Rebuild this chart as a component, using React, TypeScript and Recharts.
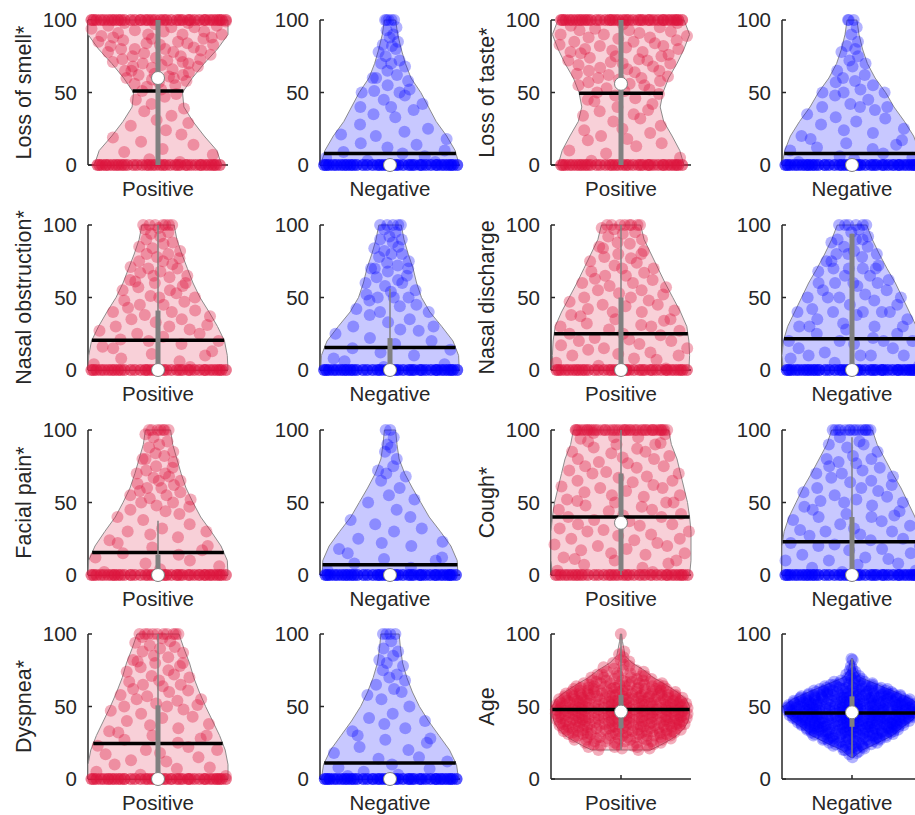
import React from "react"
import { ComposedChart, Scatter, XAxis, YAxis } from "recharts"

const RED = "#DC143C"
const BLUE = "#0000FF"
const RED_FILL = "#F8D0D8"
const BLUE_FILL = "#C8C8FF"
const GREY = "#808080"
const INK = "#262626"

const SYMPTOM_LEVELS = [0, 10, 20, 30, 40, 50, 60, 70, 80, 90, 100]

// jitter offsets, as a fraction of the violin half-width at the point's value
const JITTER = [
  -0.82, 0.35, -0.14, 0.91, -0.57, 0.08, 0.66, -0.33, -0.95, 0.52, 0.19, -0.71, 0.84, -0.04, 0.43, -0.48, 0.97,
  -0.25, -0.88, 0.27, 0.74, -0.62, 0.12, -0.39, 0.59, -0.77, 0.03, 0.88, -0.18, 0.46, -0.92, 0.31, -0.53, 0.68,
  -0.09, 0.79, -0.66,
]

// stats: [mean, median, q1, q3, whisker low, whisker high]
// ends: [count at 0, count at 100]

const SMELL_POS_WIDTH = [0.91, 0.84, 0.66, 0.5, 0.37, 0.35, 0.49, 0.66, 0.85, 1.0, 1.0]
const SMELL_POS_ENDS = [75, 75]
const SMELL_POS_VALUES = [
  2, 4, 7, 9, 11, 14, 16, 19, 21, 24, 27, 29, 31, 34, 37, 39, 42, 45, 47, 49, 51, 52, 54, 55, 56, 57, 58, 59, 60, 60,
  61, 62, 62, 63, 64, 65, 65, 66, 67, 68, 68, 69, 70, 70, 71, 71, 72, 73, 73, 74, 75, 75, 76, 77, 78, 78, 79, 80, 80,
  80, 81, 82, 83, 83, 84, 84, 85, 85, 86, 87, 87, 88, 88, 89, 90, 90, 90, 91, 92, 92, 93, 94, 95, 95, 96, 96, 97, 98,
  98, 99,
]
const SMELL_POS_STATS = [51, 60, 0, 100, 0, 100]

const SMELL_NEG_WIDTH = [0.99, 0.93, 0.81, 0.66, 0.55, 0.44, 0.3, 0.22, 0.16, 0.11, 0.08]
const SMELL_NEG_ENDS = [110, 5]
const SMELL_NEG_VALUES = [
  2, 3, 5, 6, 8, 9, 10, 12, 14, 15, 18, 20, 21, 23, 25, 28, 33, 35, 38, 40, 40, 42, 45, 48, 50, 50, 51, 52, 55, 58,
  60, 60, 62, 65, 68, 70, 70, 72, 75, 78, 80, 82, 83, 85, 88, 90, 93, 95,
]
const SMELL_NEG_STATS = [8, 0, 0, 0, 0, 0]

const TASTE_POS_WIDTH = [0.9, 0.84, 0.73, 0.61, 0.56, 0.6, 0.68, 0.8, 0.9, 0.98, 0.9]
const TASTE_POS_ENDS = [75, 75]
const TASTE_POS_VALUES = [
  3, 5, 8, 10, 13, 15, 17, 18, 20, 22, 24, 25, 27, 30, 32, 34, 35, 37, 38, 40, 42, 44, 45, 46, 48, 49, 50, 51, 52, 53,
  55, 55, 56, 57, 58, 59, 60, 60, 61, 62, 63, 64, 65, 65, 66, 67, 68, 69, 70, 70, 71, 72, 72, 73, 74, 75, 75, 76, 77,
  78, 78, 79, 80, 80, 81, 82, 82, 83, 84, 85, 85, 86, 87, 88, 88, 89, 90, 90, 91, 92, 93, 93, 94, 95, 96, 97, 98,
]
const TASTE_POS_STATS = [49.5, 56, 0, 100, 0, 100]

const TASTE_NEG_WIDTH = [1.0, 0.96, 0.88, 0.75, 0.6, 0.48, 0.33, 0.22, 0.15, 0.1, 0.07]
const TASTE_NEG_ENDS = [115, 3]
const TASTE_NEG_VALUES = [
  2, 4, 5, 6, 8, 10, 11, 12, 14, 15, 17, 18, 20, 22, 24, 25, 28, 30, 32, 33, 35, 38, 40, 40, 40, 42, 45, 48, 50, 50,
  50, 52, 55, 57, 58, 60, 62, 65, 68, 70, 72, 75, 78, 80, 82, 85, 90, 95,
]
const TASTE_NEG_STATS = [8, 0, 0, 0, 0, 0]

const OBSTR_POS_WIDTH = [1.0, 0.99, 0.95, 0.85, 0.73, 0.6, 0.5, 0.42, 0.34, 0.27, 0.23]
const OBSTR_POS_ENDS = [75, 7]
const OBSTR_POS_VALUES = [
  2, 4, 6, 8, 10, 11, 13, 15, 16, 18, 20, 20, 21, 23, 25, 25, 27, 28, 30, 30, 31, 33, 35, 35, 37, 38, 40, 40, 41, 43,
  45, 45, 47, 48, 50, 50, 51, 53, 55, 55, 57, 58, 60, 60, 61, 62, 64, 65, 65, 67, 68, 70, 70, 71, 73, 75, 75, 77, 78,
  80, 80, 82, 84, 85, 87, 88, 90, 92, 94, 95, 97, 98,
]
const OBSTR_POS_STATS = [20.5, 0, 0, 41, 0, 100]

const OBSTR_NEG_WIDTH = [0.99, 0.98, 0.9, 0.74, 0.57, 0.45, 0.38, 0.33, 0.26, 0.2, 0.16]
const OBSTR_NEG_ENDS = [110, 5]
const OBSTR_NEG_VALUES = [
  2, 4, 6, 8, 10, 12, 14, 15, 18, 20, 22, 25, 27, 28, 30, 30, 33, 35, 38, 40, 40, 42, 44, 45, 48, 50, 50, 50, 52, 54,
  55, 58, 60, 60, 62, 64, 65, 68, 70, 70, 70, 72, 74, 75, 78, 80, 80, 82, 84, 85, 88, 90, 90, 92, 95, 97,
]
const OBSTR_NEG_STATS = [15.5, 0, 0, 22, 0, 56]

const DISCH_POS_WIDTH = [0.97, 0.98, 0.97, 0.94, 0.85, 0.74, 0.63, 0.53, 0.43, 0.33, 0.28]
const DISCH_POS_ENDS = [75, 8]
const DISCH_POS_VALUES = [
  1, 3, 5, 7, 8, 10, 10, 11, 12, 14, 15, 15, 17, 18, 20, 20, 21, 22, 24, 25, 25, 27, 28, 30, 30, 31, 32, 34, 35, 35,
  37, 38, 40, 40, 41, 42, 44, 45, 45, 47, 48, 50, 50, 52, 53, 55, 55, 57, 58, 60, 60, 62, 63, 65, 65, 67, 68, 70, 70,
  72, 74, 75, 77, 78, 80, 80, 82, 84, 85, 87, 88, 90, 92, 94, 95, 97, 98,
]
const DISCH_POS_STATS = [25, 0, 0, 50, 0, 100]

const DISCH_NEG_WIDTH = [0.98, 1.0, 0.98, 0.92, 0.82, 0.72, 0.62, 0.5, 0.39, 0.29, 0.21]
const DISCH_NEG_ENDS = [115, 6]
const DISCH_NEG_VALUES = [
  3, 5, 8, 10, 10, 10, 10, 12, 15, 15, 18, 20, 20, 20, 20, 22, 25, 25, 28, 30, 30, 30, 30, 32, 35, 35, 38, 40, 40, 40,
  40, 40, 42, 45, 45, 48, 50, 50, 50, 50, 52, 55, 55, 58, 60, 60, 60, 60, 62, 65, 65, 68, 70, 70, 70, 70, 72, 75, 75,
  78, 80, 80, 80, 82, 85, 85, 88, 90, 90, 90, 92, 95, 97,
]
const DISCH_NEG_STATS = [21.5, 0, 0, 94, 0, 94]

const FACIAL_POS_WIDTH = [1.0, 0.99, 0.9, 0.76, 0.61, 0.5, 0.4, 0.33, 0.27, 0.21, 0.18]
const FACIAL_POS_ENDS = [80, 7]
const FACIAL_POS_VALUES = [
  2, 4, 6, 8, 10, 12, 14, 15, 17, 19, 20, 22, 24, 26, 28, 30, 30, 32, 35, 38, 40, 42, 44, 45, 47, 48, 50, 50, 52, 53,
  55, 55, 57, 58, 60, 60, 62, 63, 65, 65, 67, 68, 70, 70, 72, 74, 75, 78, 80, 80, 82, 84, 85, 88, 90, 92, 95, 97,
]
const FACIAL_POS_STATS = [15.5, 0, 0, 14, 0, 37.5]

const FACIAL_NEG_WIDTH = [0.97, 0.96, 0.87, 0.72, 0.56, 0.44, 0.32, 0.21, 0.13, 0.1, 0.08]
const FACIAL_NEG_ENDS = [115, 2]
const FACIAL_NEG_VALUES = [
  3, 5, 8, 10, 11, 12, 15, 18, 20, 22, 23, 25, 30, 32, 35, 38, 40, 45, 50, 52, 55, 60, 65, 68, 70, 72, 75, 80, 85, 88,
  90, 95,
]
const FACIAL_NEG_STATS = [7, 0, 0, 0, 0, 0]

const COUGH_POS_WIDTH = [0.98, 1.0, 1.0, 1.0, 0.98, 0.95, 0.9, 0.85, 0.8, 0.72, 0.68]
const COUGH_POS_ENDS = [70, 45]
const COUGH_POS_VALUES = [
  2, 3, 5, 7, 8, 10, 10, 11, 12, 14, 15, 15, 17, 18, 20, 20, 21, 22, 24, 25, 25, 27, 28, 30, 30, 31, 32, 34, 35, 35,
  37, 38, 40, 40, 41, 42, 44, 45, 45, 47, 48, 50, 50, 50, 51, 52, 54, 55, 55, 57, 58, 60, 60, 61, 62, 64, 65, 65, 67,
  68, 70, 70, 71, 72, 74, 75, 75, 77, 78, 80, 80, 81, 82, 84, 85, 85, 87, 88, 90, 90, 91, 92, 94, 95, 95, 97, 98,
]
const COUGH_POS_STATS = [40, 36, 3, 70, 0, 100]

const COUGH_NEG_WIDTH = [1.0, 1.0, 1.0, 0.97, 0.9, 0.8, 0.7, 0.58, 0.47, 0.36, 0.29]
const COUGH_NEG_ENDS = [110, 15]
const COUGH_NEG_VALUES = [
  2, 3, 5, 7, 8, 10, 10, 11, 12, 14, 15, 17, 18, 20, 20, 21, 22, 24, 25, 27, 28, 30, 30, 31, 32, 34, 35, 37, 38, 40,
  40, 41, 42, 44, 45, 47, 48, 50, 50, 51, 52, 54, 55, 57, 58, 60, 60, 62, 64, 65, 67, 68, 70, 70, 72, 74, 75, 77, 78,
  80, 80, 82, 85, 88, 90, 90, 92, 95,
]
const COUGH_NEG_STATS = [23, 0, 0, 40, 0, 95]

const DYSP_POS_WIDTH = [1.0, 1.0, 0.96, 0.88, 0.78, 0.68, 0.59, 0.51, 0.45, 0.37, 0.3]
const DYSP_POS_ENDS = [80, 10]
const DYSP_POS_VALUES = [
  2, 3, 5, 7, 8, 10, 12, 13, 15, 17, 18, 20, 20, 22, 23, 25, 27, 28, 30, 30, 32, 33, 35, 37, 38, 40, 42, 43, 45, 47,
  48, 50, 50, 51, 52, 54, 55, 55, 57, 58, 60, 61, 62, 64, 65, 65, 67, 68, 70, 71, 72, 74, 75, 77, 78, 80, 80, 81, 82,
  84, 85, 87, 88, 90, 91, 92, 94, 95, 97, 98,
]
const DYSP_POS_STATS = [24.5, 0, 0, 50.8, 0, 100]

const DYSP_NEG_WIDTH = [0.98, 0.95, 0.85, 0.7, 0.55, 0.42, 0.32, 0.24, 0.18, 0.15, 0.13]
const DYSP_NEG_ENDS = [115, 4]
const DYSP_NEG_VALUES = [
  2, 3, 5, 7, 8, 10, 12, 14, 15, 18, 20, 22, 25, 27, 28, 30, 33, 35, 38, 40, 42, 45, 50, 55, 58, 60, 62, 65, 68, 70,
  72, 75, 78, 80, 82, 85, 88, 90, 95,
]
const DYSP_NEG_STATS = [11, 0, 0, 0, 0, 0]

const AGE_POS_LEVELS = [20, 23, 27, 30, 35, 40, 45, 50, 55, 60, 65, 70, 75, 80, 85, 90, 95, 100]
const AGE_POS_WIDTH = [0.42, 0.55, 0.7, 0.8, 0.9, 0.96, 0.98, 0.98, 0.93, 0.8, 0.64, 0.46, 0.33, 0.16, 0.06, 0.04, 0.02, 0.01]
// number of patients at each age, starting at AGE_POS_FIRST
const AGE_POS_FIRST = 20
const AGE_POS_COUNTS = [
  2, 2, 3, 3, 3, 4, 4, 5, 5, 6, 6, 7, 7, 8, 8, 8, 9, 9, 9, 10, 10, 10, 10, 10, 11, 11, 11, 11, 11, 11, 11, 11, 10, 10,
  10, 10, 9, 9, 9, 8, 8, 7, 7, 6, 6, 5, 5, 4, 4, 3, 3, 3, 2, 2, 2, 2, 1, 1, 1, 1, 1, 1, 1, 0, 1, 0, 1, 0, 1, 0, 0, 0,
  0, 0, 0, 0, 0, 0, 0, 0, 1,
]
const AGE_POS_STATS = [48, 46.5, 35, 58, 20, 100]

const AGE_NEG_LEVELS = [15, 20, 25, 30, 35, 40, 45, 50, 55, 60, 65, 70, 75, 80, 83]
const AGE_NEG_WIDTH = [0.02, 0.15, 0.37, 0.58, 0.7, 0.84, 0.96, 0.98, 0.85, 0.62, 0.37, 0.12, 0.05, 0.03, 0.01]
const AGE_NEG_FIRST = 15
const AGE_NEG_COUNTS = [
  1, 0, 1, 1, 2, 2, 3, 3, 4, 4, 5, 5, 6, 7, 7, 8, 9, 10, 10, 11, 12, 12, 13, 13, 14, 14, 15, 15, 15, 16, 16, 16, 16, 16,
  16, 15, 15, 15, 14, 14, 13, 12, 12, 11, 10, 9, 8, 7, 6, 5, 5, 4, 3, 3, 2, 2, 2, 1, 1, 1, 1, 1, 0, 1, 0, 0, 0, 1, 1,
]
const AGE_NEG_STATS = [45.5, 46, 36, 57, 15, 83]

const AGE_POS_VALUES = AGE_POS_COUNTS.flatMap((n, i) => Array.from({ length: n }, () => AGE_POS_FIRST + i))
const AGE_NEG_VALUES = AGE_NEG_COUNTS.flatMap((n, i) => Array.from({ length: n }, () => AGE_NEG_FIRST + i))

type PanelDef = {
  label: string
  group: "Positive" | "Negative"
  levels: number[]
  widths: number[]
  ends: number[]
  values: number[]
  stats: number[]
}

const PANELS: PanelDef[] = [
  { label: "Loss of smell*", group: "Positive", levels: SYMPTOM_LEVELS, widths: SMELL_POS_WIDTH, ends: SMELL_POS_ENDS, values: SMELL_POS_VALUES, stats: SMELL_POS_STATS },
  { label: "", group: "Negative", levels: SYMPTOM_LEVELS, widths: SMELL_NEG_WIDTH, ends: SMELL_NEG_ENDS, values: SMELL_NEG_VALUES, stats: SMELL_NEG_STATS },
  { label: "Loss of taste*", group: "Positive", levels: SYMPTOM_LEVELS, widths: TASTE_POS_WIDTH, ends: TASTE_POS_ENDS, values: TASTE_POS_VALUES, stats: TASTE_POS_STATS },
  { label: "", group: "Negative", levels: SYMPTOM_LEVELS, widths: TASTE_NEG_WIDTH, ends: TASTE_NEG_ENDS, values: TASTE_NEG_VALUES, stats: TASTE_NEG_STATS },
  { label: "Nasal obstruction*", group: "Positive", levels: SYMPTOM_LEVELS, widths: OBSTR_POS_WIDTH, ends: OBSTR_POS_ENDS, values: OBSTR_POS_VALUES, stats: OBSTR_POS_STATS },
  { label: "", group: "Negative", levels: SYMPTOM_LEVELS, widths: OBSTR_NEG_WIDTH, ends: OBSTR_NEG_ENDS, values: OBSTR_NEG_VALUES, stats: OBSTR_NEG_STATS },
  { label: "Nasal discharge", group: "Positive", levels: SYMPTOM_LEVELS, widths: DISCH_POS_WIDTH, ends: DISCH_POS_ENDS, values: DISCH_POS_VALUES, stats: DISCH_POS_STATS },
  { label: "", group: "Negative", levels: SYMPTOM_LEVELS, widths: DISCH_NEG_WIDTH, ends: DISCH_NEG_ENDS, values: DISCH_NEG_VALUES, stats: DISCH_NEG_STATS },
  { label: "Facial pain*", group: "Positive", levels: SYMPTOM_LEVELS, widths: FACIAL_POS_WIDTH, ends: FACIAL_POS_ENDS, values: FACIAL_POS_VALUES, stats: FACIAL_POS_STATS },
  { label: "", group: "Negative", levels: SYMPTOM_LEVELS, widths: FACIAL_NEG_WIDTH, ends: FACIAL_NEG_ENDS, values: FACIAL_NEG_VALUES, stats: FACIAL_NEG_STATS },
  { label: "Cough*", group: "Positive", levels: SYMPTOM_LEVELS, widths: COUGH_POS_WIDTH, ends: COUGH_POS_ENDS, values: COUGH_POS_VALUES, stats: COUGH_POS_STATS },
  { label: "", group: "Negative", levels: SYMPTOM_LEVELS, widths: COUGH_NEG_WIDTH, ends: COUGH_NEG_ENDS, values: COUGH_NEG_VALUES, stats: COUGH_NEG_STATS },
  { label: "Dyspnea*", group: "Positive", levels: SYMPTOM_LEVELS, widths: DYSP_POS_WIDTH, ends: DYSP_POS_ENDS, values: DYSP_POS_VALUES, stats: DYSP_POS_STATS },
  { label: "", group: "Negative", levels: SYMPTOM_LEVELS, widths: DYSP_NEG_WIDTH, ends: DYSP_NEG_ENDS, values: DYSP_NEG_VALUES, stats: DYSP_NEG_STATS },
  { label: "Age", group: "Positive", levels: AGE_POS_LEVELS, widths: AGE_POS_WIDTH, ends: [0, 0], values: AGE_POS_VALUES, stats: AGE_POS_STATS },
  { label: "", group: "Negative", levels: AGE_NEG_LEVELS, widths: AGE_NEG_WIDTH, ends: [0, 0], values: AGE_NEG_VALUES, stats: AGE_NEG_STATS },
]

const COL_LEFT = [0, 232, 463, 694]
const ROW_TOP = [0, 205, 410, 614]

function halfWidthAt(levels: number[], widths: number[], y: number): number {
  if (y <= levels[0]) return widths[0]
  for (let i = 1; i < levels.length; i++) {
    if (y <= levels[i]) {
      const t = (y - levels[i - 1]) / (levels[i] - levels[i - 1])
      return widths[i - 1] + t * (widths[i] - widths[i - 1])
    }
  }
  return widths[widths.length - 1]
}

const noShape = () => <g />

function Panel({ p, index }: { p: PanelDef; index: number }) {
  const positive = p.group === "Positive"
  const color = positive ? RED : BLUE
  const fill = positive ? RED_FILL : BLUE_FILL
  const alpha = positive ? 0.35 : 0.3
  const [mean, median, q1, q3, lo, hi] = p.stats

  const violin = [
    ...p.levels.map((y, i) => ({ x: p.widths[i], y })),
    ...p.levels.map((y, i) => ({ x: -p.widths[i], y })).reverse(),
  ]
  violin.push(violin[0])

  const ys = [
    ...Array.from({ length: p.ends[0] }, () => 0),
    ...p.values,
    ...Array.from({ length: p.ends[1] }, () => 100),
  ]
  const points = ys.map((y, k) => ({
    x: JITTER[(k + index * 7) % JITTER.length] * halfWidthAt(p.levels, p.widths, y),
    y,
  }))

  const mw = halfWidthAt(p.levels, p.widths, mean)
  const meanLine = [
    { x: -mw, y: mean },
    { x: mw, y: mean },
  ]
  const whisker = [
    { x: 0, y: lo },
    { x: 0, y: hi },
  ]
  const box = [
    { x: 0, y: q1 },
    { x: 0, y: q3 },
  ]

  const col = index % 4
  const row = Math.floor(index / 4)

  return (
    <div style={{ position: "absolute", left: COL_LEFT[col], top: ROW_TOP[row] }}>
      <ComposedChart width={240} height={205} margin={{ top: 20, right: 12, bottom: 0, left: 0 }}>
        <XAxis
          type="number"
          dataKey="x"
          domain={[-1, 1]}
          ticks={[0]}
          tickFormatter={() => p.group}
          height={40}
          tickSize={-4}
          tickMargin={20}
          axisLine={{ stroke: INK, strokeWidth: 1.5 }}
          tickLine={{ stroke: INK, strokeWidth: 1.5 }}
          tick={{ fontSize: 20.5, fill: INK }}
        />
        <YAxis
          type="number"
          dataKey="y"
          domain={[0, 100]}
          ticks={[0, 50, 100]}
          width={88}
          tickSize={-4}
          tickMargin={15}
          axisLine={{ stroke: INK, strokeWidth: 1.5 }}
          tickLine={{ stroke: INK, strokeWidth: 1.5 }}
          tick={{ fontSize: 20.5, fill: INK }}
          label={
            p.label
              ? {
                  value: p.label,
                  angle: -90,
                  position: "insideLeft",
                  offset: 23,
                  fill: INK,
                  style: { textAnchor: "middle", fontSize: 21.5, fill: INK },
                }
              : undefined
          }
        />
        <Scatter
          data={violin}
          shape={noShape}
          line={{ fill, stroke: GREY, strokeWidth: 0.9 }}
          isAnimationActive={false}
        />
        <Scatter
          data={points}
          shape={(s: any) => <circle cx={s.cx} cy={s.cy} r={6} fill={color} fillOpacity={alpha} />}
          isAnimationActive={false}
        />
        <Scatter data={meanLine} shape={noShape} line={{ stroke: "#000000", strokeWidth: 3.5 }} isAnimationActive={false} />
        <Scatter data={whisker} shape={noShape} line={{ stroke: GREY, strokeWidth: 1.5 }} isAnimationActive={false} />
        <Scatter data={box} shape={noShape} line={{ stroke: GREY, strokeWidth: 5 }} isAnimationActive={false} />
        <Scatter
          data={[{ x: 0, y: median }]}
          shape={(s: any) => <circle cx={s.cx} cy={s.cy} r={6.5} fill="#ffffff" stroke={GREY} strokeWidth={1} />}
          isAnimationActive={false}
        />
      </ComposedChart>
    </div>
  )
}

export default function App() {
  return (
    <div
      style={{
        position: "absolute",
        left: 0,
        top: 0,
        width: 915,
        height: 815,
        overflow: "hidden",
        background: "#ffffff",
        fontFamily: "'Liberation Sans', Arial, sans-serif",
      }}
    >
      {PANELS.map((p, i) => (
        <Panel key={i} p={p} index={i} />
      ))}
    </div>
  )
}
